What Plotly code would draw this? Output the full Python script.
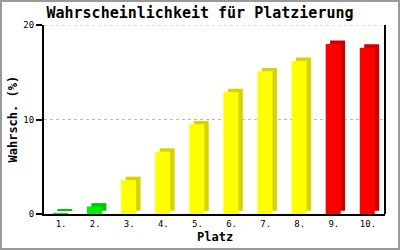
import plotly.graph_objects as go

categories = ["1.", "2.", "3.", "4.", "5.", "6.", "7.", "8.", "9.", "10."]
values = [0.1, 0.8, 3.6, 6.6, 9.5, 12.9, 15.1, 16.2, 18.0, 17.6]
front_colors = ["#00ee00", "#00ee00", "#ffff00", "#ffff00", "#ffff00", "#ffff00",
                "#ffff00", "#ffff00", "#ff0000", "#ff0000"]
side_colors = ["#00c400", "#00c400", "#d4d400", "#d4d400", "#d4d400", "#d4d400",
               "#d4d400", "#d4d400", "#cc0000", "#cc0000"]
y_ticks = [0, 10, 20]

L, R, T, B = 44, 15, 25, 36
W, H = 400, 250
pw, ph = W - L - R, H - T - B

mono = "DejaVu Sans Mono"

fig = go.Figure()
# side/top face (depth)
fig.add_trace(go.Bar(
    x=categories, y=values, base=0.35, width=0.44, offset=-0.11,
    marker=dict(color=side_colors, line=dict(width=0)), hoverinfo="skip"))
# front face
fig.add_trace(go.Bar(
    x=categories, y=values, width=0.44, offset=-0.24,
    marker=dict(color=front_colors, line=dict(width=0))))

fig.update_layout(
    width=W, height=H, showlegend=False, barmode="overlay",
    margin=dict(l=L, r=R, t=T, b=B, autoexpand=False),
    paper_bgcolor="white", plot_bgcolor="white",
    title=dict(text="<b>Wahrscheinlichkeit für Platzierung</b>", x=0.5, xanchor="center",
               y=1 - 13 / H, yanchor="middle",
               font=dict(family=mono, size=15, color="black")),
    xaxis=dict(type="category", showgrid=False, showline=True, linecolor="black",
               linewidth=2, ticks="", automargin=False,
               tickfont=dict(family=mono, size=9, color="black"),
               fixedrange=True),
    yaxis=dict(range=[0, 20], tickvals=y_ticks, ticks="outside", ticklen=6,
               tickcolor="black", tickwidth=2, showline=True, linecolor="black", linewidth=2,
               gridcolor="#bbbbbb", griddash="dot", gridwidth=1, zeroline=False,
               automargin=False,
               tickfont=dict(family=mono, size=9, color="black"),
               fixedrange=True),
    annotations=[
        dict(text="<b>Platz</b>", xref="paper", yref="paper", x=0.5, y=-(237 - (H - B)) / ph,
             xanchor="center", yanchor="middle", showarrow=False,
             font=dict(family=mono, size=12, color="black")),
        dict(text="<b>Wahrsch. (%)</b>", xref="paper", yref="paper", x=-(L - 12) / pw, y=0.5,
             xanchor="center", yanchor="middle", textangle=-90, showarrow=False,
             font=dict(family=mono, size=12, color="black")),
    ],
    shapes=[
        dict(type="line", xref="paper", yref="y", x0=0, x1=1, y0=y_ticks[-1], y1=y_ticks[-1],
             line=dict(color="#bbbbbb", width=1, dash="dot"), layer="below"),
        dict(type="line", xref="paper", yref="paper", x0=1, x1=1, y0=0, y1=1,
             line=dict(color="black", width=2)),
        dict(type="rect", xref="paper", yref="paper",
             x0=-(L - 1) / pw, x1=1 + (R - 1) / pw,
             y0=-(B - 1) / ph, y1=1 + (T - 1) / ph,
             line=dict(color="#999999", width=2)),
    ],
)

fig.write_html("out.html")
